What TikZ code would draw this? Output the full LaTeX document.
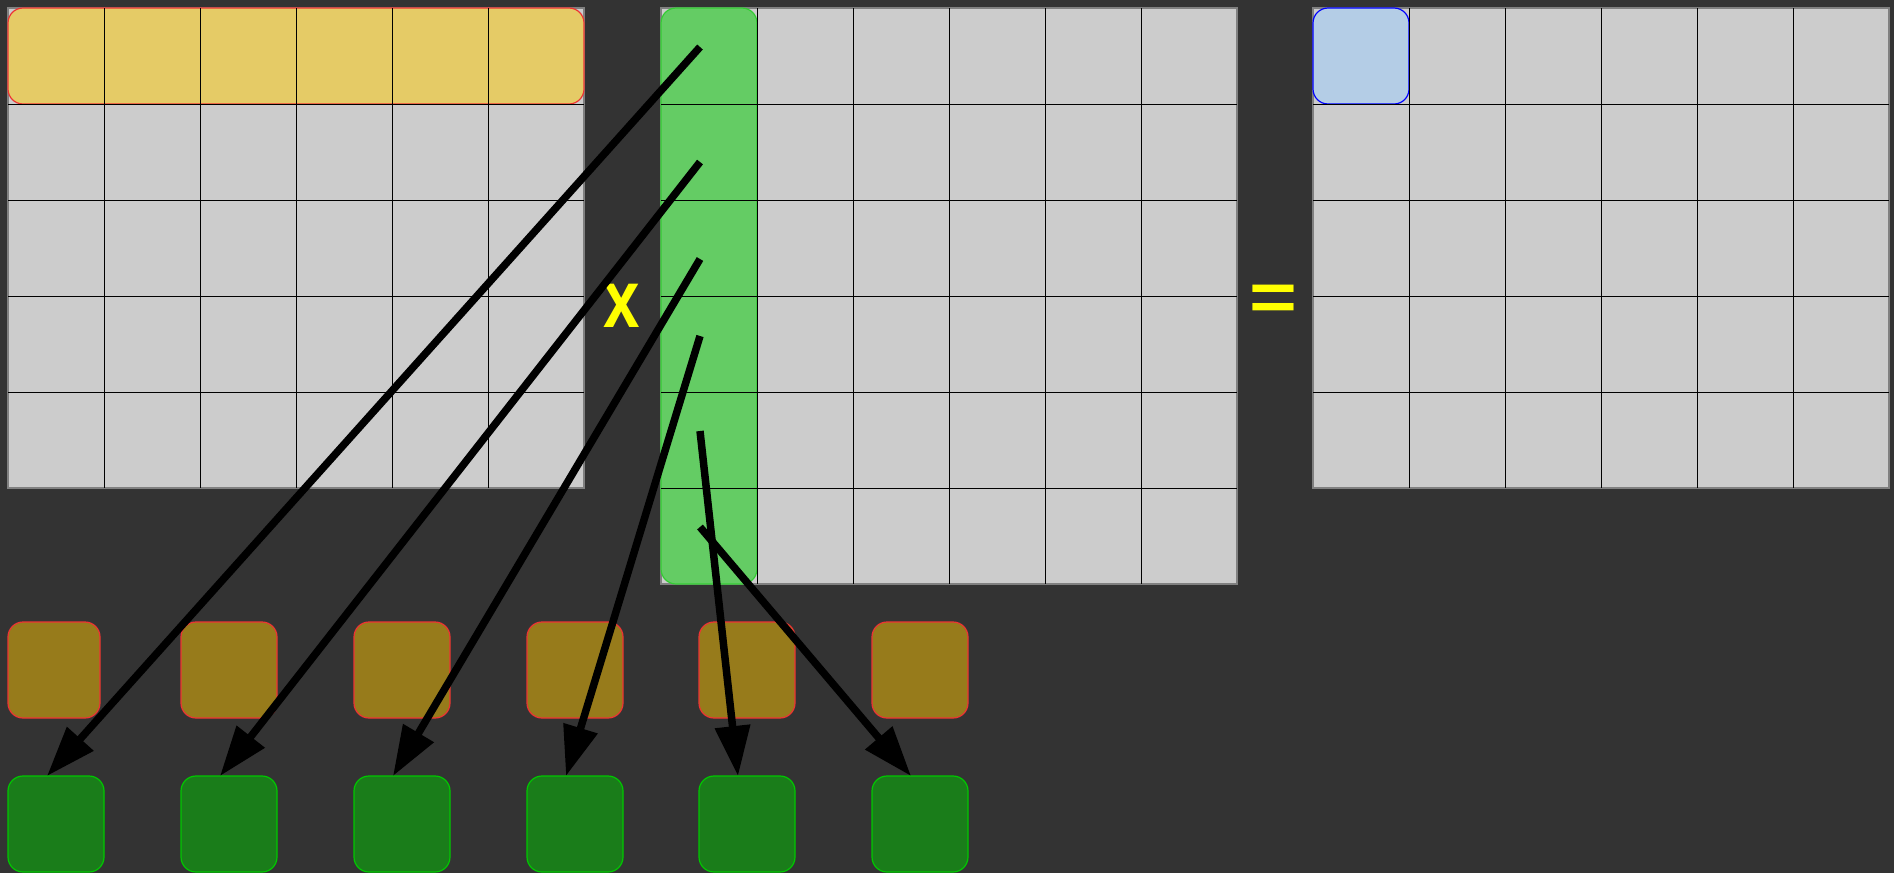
\documentclass[tikz,border=0pt]{standalone}
\usepackage{fontspec}
\setmainfont{Liberation Sans}
\usetikzlibrary{arrows.meta,positioning,calc}
\definecolor{bgDark}{HTML}{333333}
\definecolor{cellFill}{HTML}{CCCCCC}
\definecolor{rowFill}{HTML}{E5CB66}
\definecolor{colFill}{HTML}{64CC64}
\definecolor{colDraw}{HTML}{33CC33}
\definecolor{entryFill}{HTML}{B4CDE6}
\definecolor{partFill}{HTML}{977B1B}
\definecolor{partDraw}{HTML}{EE3333}
\definecolor{sumFill}{HTML}{1A7D1A}
\definecolor{sumDraw}{HTML}{00C800}
\definecolor{signYellow}{HTML}{FFFF00}
\tikzset{
  backdrop/.style ={fill=bgDark},
  matcell/.style  ={fill=cellFill, draw=gray, line width=1.5pt},
  gridline/.style ={draw=black, line width=1pt},
  hilite/.style   ={rounded corners=15pt, line width=1.2pt},
  rowmark/.style  ={hilite, fill=rowFill, draw=partDraw},
  colmark/.style  ={hilite, fill=colFill, draw=colDraw},
  entrymark/.style={hilite, fill=entryFill, draw=blue},
  tile/.style     ={anchor=north west, minimum width=96pt, minimum height=96pt, inner sep=0pt,
                    outer sep=0pt, rounded corners=15pt, line width=1.2pt},
  part/.style     ={tile, fill=partFill, draw=partDraw},
  total/.style    ={tile, fill=sumFill, draw=sumDraw},
  sign/.style     ={text=signYellow, inner sep=0pt, font=\fontsize{82}{82}\selectfont\bfseries},
  arr/.style      ={-{Triangle[length=50pt, width=34pt]}, line width=7.5pt, draw=black},
}

\begin{document}
\begin{tikzpicture}[x=1pt, y=-1pt]
  % backdrop
  \fill[backdrop] (0,0) rectangle (1894,873);
  \useasboundingbox (0,0) rectangle (1894,873);
  % matrices
  \foreach \gx/\nr in {8/5, 661/6, 1313/5}
    \filldraw[matcell] (\gx,8) rectangle ++(576,96*\nr);
  % highlighted row, column and entry
  \filldraw[rowmark]   (8,8)    rectangle (584,104);
  \filldraw[colmark]   (661,8)  rectangle (757,584);
  \filldraw[entrymark] (1313,8) rectangle (1409,104);
  % inner grid lines
  \foreach \gx/\nr/\nh in {8/5/4, 661/6/5, 1313/5/4} {
    \foreach \k in {1,...,5}
      \draw[gridline] (\gx+96*\k,8) -- ++(0,96*\nr);
    \foreach \k in {1,...,\nh}
      \draw[gridline] (\gx,8+96*\k) -- ++(576,0);
  }
  % operators
  \node[sign] (times)  at (622,306) {\scalebox{0.8}[1]{x}};
  \node[sign] (equals) at (1273,303) {\scalebox{1}[0.83]{=}};
  % sums
  \node[total]                  (g1) at (8,776) {};
  \node[total, right=77pt of g1] (g2) {};
  \node[total, right=77pt of g2] (g3) {};
  \node[total, right=77pt of g3] (g4) {};
  \node[total, right=76pt of g4] (g5) {};
  \node[total, right=77pt of g5] (g6) {};
  % partial products
  \node[part, minimum width=92pt, above right=58pt and 0pt of g1.north west] (p1) {};
  \node[part, above=58pt of g2] (p2) {};
  \node[part, above=58pt of g3] (p3) {};
  \node[part, above=58pt of g4] (p4) {};
  \node[part, above=58pt of g5] (p5) {};
  \node[part, above=58pt of g6] (p6) {};
  % column entries to sums
  \foreach \i/\y in {1/47, 2/162, 3/259, 4/336, 5/431, 6/527}
    \coordinate (s\i) at (700,\y);
  \foreach \i in {1,...,6}
    \draw[arr] (s\i) -- ([xshift=39pt]g\i.north west);
\end{tikzpicture}
\end{document}
